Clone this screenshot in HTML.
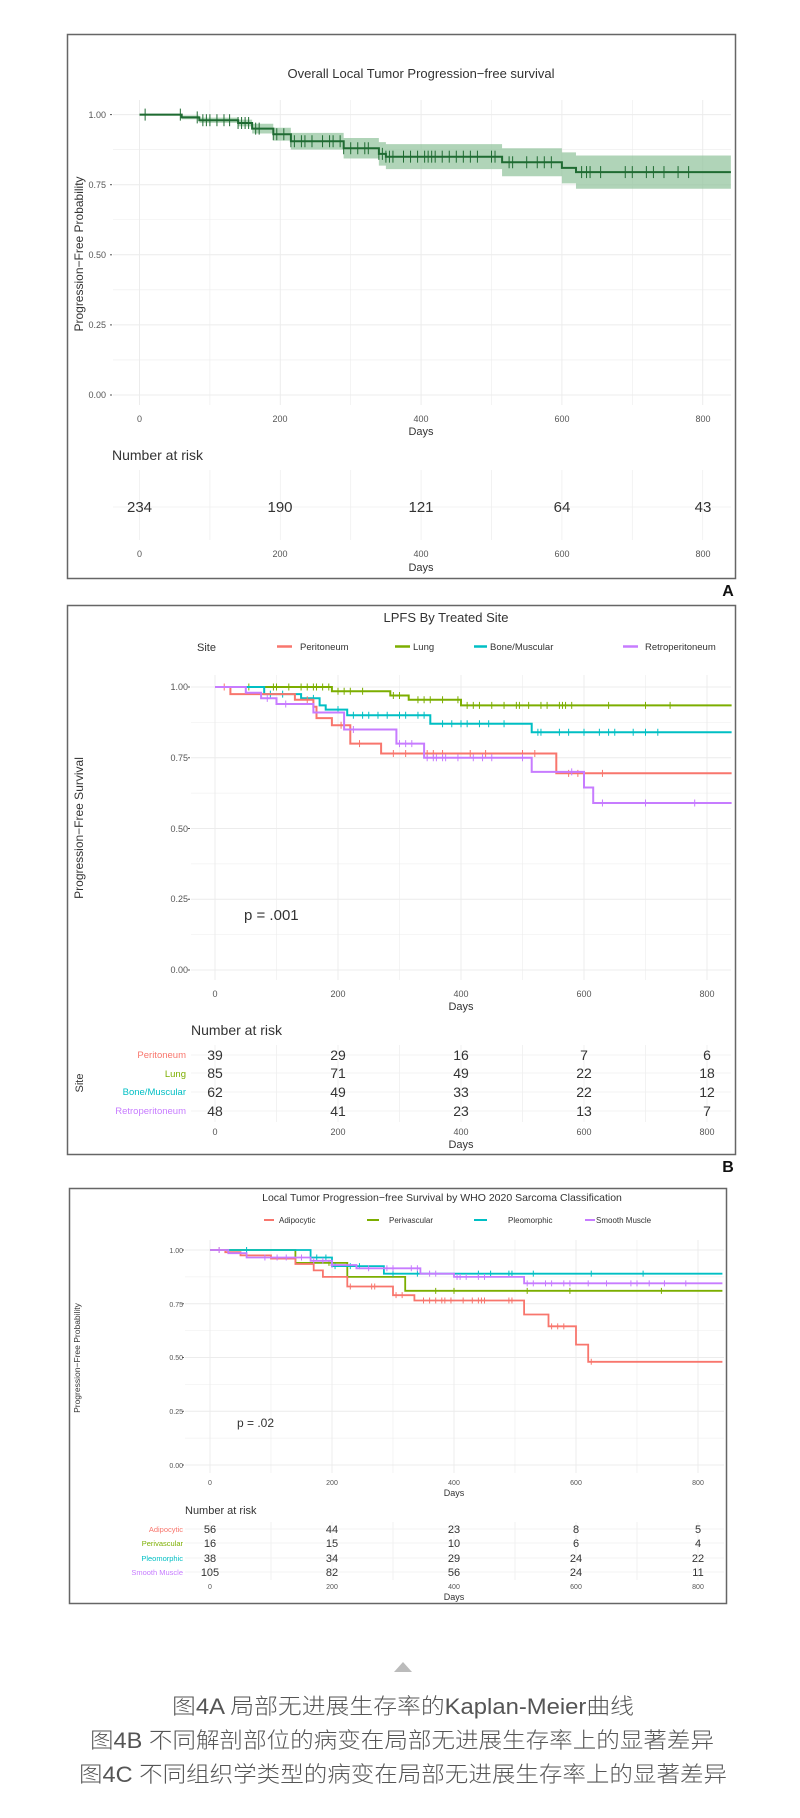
<!DOCTYPE html>
<html><head><meta charset="utf-8">
<style>
html,body{margin:0;padding:0;background:#fff;}
svg{display:block;}
text{font-family:"Liberation Sans",Arial,sans-serif;}
.cap{font-family:"Liberation Sans","Noto Sans CJK SC",sans-serif;font-weight:300;fill:#555;font-size:22px;}
</style></head>
<body>
<svg id="s" width="800" height="1818" viewBox="0 0 800 1818" xmlns="http://www.w3.org/2000/svg">
<!-- Panel boxes -->
<rect x="67.5" y="34.5" width="668" height="544" fill="none" stroke="#666" stroke-width="1.5"/>
<rect x="67.5" y="605.5" width="668" height="549" fill="none" stroke="#666" stroke-width="1.5"/>
<rect x="69.5" y="1188.5" width="657" height="415" fill="none" stroke="#666" stroke-width="1.5"/>
<g id="grids"></g>
<g id="curves"></g>

<!-- Panel A text -->
<text x="421" y="78" font-size="13" text-anchor="middle" fill="#333">Overall Local Tumor Progression−free survival</text>
<text transform="translate(83,254) rotate(-90)" font-size="12" text-anchor="middle" fill="#333">Progression−Free Probability</text>
<g font-size="9" fill="#555" text-anchor="end">
<text x="106" y="118">1.00</text><text x="106" y="188">0.75</text><text x="106" y="258">0.50</text><text x="106" y="328">0.25</text><text x="106" y="398">0.00</text>
</g>
<g font-size="9" fill="#555" text-anchor="middle">
<text x="139.5" y="422">0</text><text x="280" y="422">200</text><text x="421" y="422">400</text><text x="562" y="422">600</text><text x="703" y="422">800</text>
<text x="139.5" y="557">0</text><text x="280" y="557">200</text><text x="421" y="557">400</text><text x="562" y="557">600</text><text x="703" y="557">800</text>
</g>
<text x="421" y="435" font-size="11" text-anchor="middle" fill="#333">Days</text>
<text x="421" y="571" font-size="11" text-anchor="middle" fill="#333">Days</text>
<text x="112" y="460" font-size="14" fill="#333">Number at risk</text>
<g font-size="15" fill="#333" text-anchor="middle">
<text x="139.5" y="512">234</text><text x="280" y="512">190</text><text x="421" y="512">121</text><text x="562" y="512">64</text><text x="703" y="512">43</text>
</g>
<text x="728" y="596" font-size="16" font-weight="bold" text-anchor="middle" fill="#111">A</text>

<!-- Panel B text -->
<text x="446" y="622" font-size="13" text-anchor="middle" fill="#333">LPFS By Treated Site</text>
<text x="197" y="651" font-size="11" fill="#333">Site</text>
<g stroke-width="2.5">
<line x1="277" y1="646.5" x2="292" y2="646.5" stroke="#f8766d"/>
<line x1="395" y1="646.5" x2="410" y2="646.5" stroke="#7cae00"/>
<line x1="474" y1="646.5" x2="487" y2="646.5" stroke="#00bfc4"/>
<line x1="623" y1="646.5" x2="638" y2="646.5" stroke="#c77cff"/>
</g>
<g font-size="9.5" fill="#333">
<text x="300" y="650">Peritoneum</text><text x="413" y="650">Lung</text><text x="490" y="650">Bone/Muscular</text><text x="645" y="650">Retroperitoneum</text>
</g>
<text transform="translate(83,828) rotate(-90)" font-size="12" text-anchor="middle" fill="#333">Progression−Free Survival</text>
<g font-size="9" fill="#555" text-anchor="end">
<text x="188" y="690">1.00</text><text x="188" y="761">0.75</text><text x="188" y="832">0.50</text><text x="188" y="902">0.25</text><text x="188" y="973">0.00</text>
</g>
<g font-size="9" fill="#555" text-anchor="middle">
<text x="215" y="997">0</text><text x="338" y="997">200</text><text x="461" y="997">400</text><text x="584" y="997">600</text><text x="707" y="997">800</text>
<text x="215" y="1135">0</text><text x="338" y="1135">200</text><text x="461" y="1135">400</text><text x="584" y="1135">600</text><text x="707" y="1135">800</text>
</g>
<text x="461" y="1010" font-size="11" text-anchor="middle" fill="#333">Days</text>
<text x="461" y="1148" font-size="11" text-anchor="middle" fill="#333">Days</text>
<text x="244" y="920" font-size="15" fill="#333">p = .001</text>
<text x="191" y="1035" font-size="14" fill="#333">Number at risk</text>
<g font-size="9.5" text-anchor="end">
<text x="186" y="1058" fill="#f8766d">Peritoneum</text><text x="186" y="1077" fill="#7cae00">Lung</text><text x="186" y="1095" fill="#00bfc4">Bone/Muscular</text><text x="186" y="1114" fill="#c77cff">Retroperitoneum</text>
</g>
<text transform="translate(83,1083) rotate(-90)" font-size="11" text-anchor="middle" fill="#333">Site</text>
<g font-size="14" fill="#333" text-anchor="middle">
<text x="215" y="1060">39</text><text x="338" y="1060">29</text><text x="461" y="1060">16</text><text x="584" y="1060">7</text><text x="707" y="1060">6</text>
<text x="215" y="1078">85</text><text x="338" y="1078">71</text><text x="461" y="1078">49</text><text x="584" y="1078">22</text><text x="707" y="1078">18</text>
<text x="215" y="1097">62</text><text x="338" y="1097">49</text><text x="461" y="1097">33</text><text x="584" y="1097">22</text><text x="707" y="1097">12</text>
<text x="215" y="1116">48</text><text x="338" y="1116">41</text><text x="461" y="1116">23</text><text x="584" y="1116">13</text><text x="707" y="1116">7</text>
</g>
<text x="728" y="1172" font-size="16" font-weight="bold" text-anchor="middle" fill="#111">B</text>

<!-- Panel C text -->
<text x="442" y="1201" font-size="10.5" text-anchor="middle" fill="#333">Local Tumor Progression−free Survival by WHO 2020 Sarcoma Classification</text>
<g stroke-width="2">
<line x1="264" y1="1220" x2="274" y2="1220" stroke="#f8766d"/>
<line x1="367" y1="1220" x2="379" y2="1220" stroke="#7cae00"/>
<line x1="474" y1="1220" x2="487" y2="1220" stroke="#00bfc4"/>
<line x1="585" y1="1220" x2="595" y2="1220" stroke="#c77cff"/>
</g>
<g font-size="8" fill="#333">
<text x="279" y="1223">Adipocytic</text><text x="389" y="1223">Perivascular</text><text x="508" y="1223">Pleomorphic</text><text x="596" y="1223">Smooth Muscle</text>
</g>
<text transform="translate(80,1358) rotate(-90)" font-size="8.5" text-anchor="middle" fill="#333">Progression−Free Probability</text>
<g font-size="7" fill="#555" text-anchor="end">
<text x="183" y="1253">1.00</text><text x="183" y="1307">0.75</text><text x="183" y="1360">0.50</text><text x="183" y="1414">0.25</text><text x="183" y="1468">0.00</text>
</g>
<g font-size="7" fill="#555" text-anchor="middle">
<text x="210" y="1485">0</text><text x="332" y="1485">200</text><text x="454" y="1485">400</text><text x="576" y="1485">600</text><text x="698" y="1485">800</text>
<text x="210" y="1589">0</text><text x="332" y="1589">200</text><text x="454" y="1589">400</text><text x="576" y="1589">600</text><text x="698" y="1589">800</text>
</g>
<text x="454" y="1496" font-size="9" text-anchor="middle" fill="#333">Days</text>
<text x="454" y="1600" font-size="9" text-anchor="middle" fill="#333">Days</text>
<text x="237" y="1427" font-size="12" fill="#333">p = .02</text>
<text x="185" y="1514" font-size="11" fill="#333">Number at risk</text>
<g font-size="7.5" text-anchor="end">
<text x="183" y="1532" fill="#f8766d">Adipocytic</text><text x="183" y="1546" fill="#7cae00">Perivascular</text><text x="183" y="1561" fill="#00bfc4">Pleomorphic</text><text x="183" y="1575" fill="#c77cff">Smooth Muscle</text>
</g>
<g font-size="11" fill="#333" text-anchor="middle">
<text x="210" y="1533">56</text><text x="332" y="1533">44</text><text x="454" y="1533">23</text><text x="576" y="1533">8</text><text x="698" y="1533">5</text>
<text x="210" y="1547">16</text><text x="332" y="1547">15</text><text x="454" y="1547">10</text><text x="576" y="1547">6</text><text x="698" y="1547">4</text>
<text x="210" y="1562">38</text><text x="332" y="1562">34</text><text x="454" y="1562">29</text><text x="576" y="1562">24</text><text x="698" y="1562">22</text>
<text x="210" y="1576">105</text><text x="332" y="1576">82</text><text x="454" y="1576">56</text><text x="576" y="1576">24</text><text x="698" y="1576">11</text>
</g>

<!-- Triangle & captions -->
<polygon points="394,1672 412,1672 403,1662" fill="#bbb"/>
<text class="cap" x="403" y="1714" text-anchor="middle" textLength="462" lengthAdjust="spacingAndGlyphs">图4A 局部无进展生存率的Kaplan-Meier曲线</text>
<text class="cap" x="402" y="1748" text-anchor="middle" textLength="624" lengthAdjust="spacingAndGlyphs">图4B  不同解剖部位的病变在局部无进展生存率上的显著差异</text>
<text class="cap" x="403" y="1782" text-anchor="middle" textLength="648" lengthAdjust="spacingAndGlyphs">图4C  不同组织学类型的病变在局部无进展生存率上的显著差异</text>
</svg>
<script>
(function(){
var NS="http://www.w3.org/2000/svg";
var G=document.getElementById('grids'),C=document.getElementById('curves');
function el(p,tag,a){var e=document.createElementNS(NS,tag);for(var k in a)e.setAttribute(k,a[k]);p.appendChild(e);return e;}
function panel(P){
  var X=function(t){return P.x0+t*P.sx;},Y=function(p){return P.y0-p*P.sy;};
  for(var t=0;t<=800;t+=100){var x=X(t);el(G,'line',{x1:x,x2:x,y1:P.top,y2:P.bot,stroke:'#ececec','stroke-width':t%200?0.6:1});}
  for(var i=0;i<=8;i++){var y=Y(i/8);el(G,'line',{x1:P.left,x2:P.right,y1:y,y2:y,stroke:'#ececec','stroke-width':i%2?0.6:1});}
  if(P.risk){for(var t=0;t<=800;t+=100){var x=X(t);el(G,'line',{x1:x,x2:x,y1:P.risk[0],y2:P.risk[1],stroke:'#efefef','stroke-width':0.8});}
    P.rrows.forEach(function(y){el(G,'line',{x1:P.left,x2:P.right,y1:y,y2:y,stroke:'#efefef','stroke-width':0.8});});}
  P.series.forEach(function(s){
    var d=s.d,path='';
    for(var i=0;i<d.length;i++){var x1=X(d[i][0]),x2=X(i+1<d.length?d[i+1][0]:P.end),y=Y(d[i][1]);
      path+=(i==0?'M':'L')+x1.toFixed(1)+','+y.toFixed(1)+'L'+x2.toFixed(1)+','+y.toFixed(1);}
    if(s.band){var up='',lo='';var b=s.band;
      var pts=[];for(var i=0;i<d.length;i++){var x1=X(d[i][0]),x2=X(i+1<d.length?d[i+1][0]:P.end);var w=b*(1-d[i][1])*3+0.004;
        var yu=Y(Math.min(1,d[i][1]+w)),yl=Y(d[i][1]-w);up+=(i==0?'M':'L')+x1+','+yu+'L'+x2+','+yu;pts.unshift(x2+','+yl,x1+','+yl);}
      el(C,'path',{d:up+'L'+pts.join('L')+'Z',fill:'#8fc29a','fill-opacity':0.7});}
    el(C,'path',{d:path,fill:'none',stroke:s.c,'stroke-width':P.lw});
    (s.cens||[]).forEach(function(t){var p=1;for(var i=0;i<d.length;i++)if(d[i][0]<=t)p=d[i][1];var x=X(t),y=Y(p);
      el(C,'path',{d:'M'+(x)+','+(y-P.ch)+'V'+(y+P.ch)+(P.hz?'M'+(x-P.ch*0.7)+','+y+'H'+(x+P.ch*0.7):''),stroke:s.c,'stroke-width':1,fill:'none'});});
  });
  P.yt.forEach(function(p){el(G,'line',{x1:P.left-3,x2:P.left-1,y1:Y(p),y2:Y(p),stroke:'#555'});});
}
function range(a){return a;}
panel({x0:139.5,sx:0.704,y0:395,sy:280.4,top:100,bot:405,left:113,right:731,end:840,lw:2,ch:6,hz:false,
 risk:[470,540],rrows:[507],yt:[0,.25,.5,.75,1],
 series:[{c:'#1f6b32',band:0.09,d:[[0,1],[60,.99],[85,.98],[140,.97],[160,.95],[190,.93],[215,.905],[290,.88],[340,.86],[350,.85],[515,.83],[600,.81],[620,.795]],
 cens:[8,58,82,90,95,100,110,120,128,140,145,150,155,165,170,190,195,205,215,220,230,235,245,260,270,275,285,290,300,310,320,325,340,345,350,355,360,375,385,395,405,410,415,420,430,440,450,460,470,480,500,505,525,530,550,565,575,585,628,635,640,655,690,700,720,730,745,765,780]}]});
panel({x0:215,sx:0.615,y0:970,sy:283,top:675,bot:980,left:191,right:731,end:840,lw:2,ch:3.5,hz:true,
 risk:[1045,1122],rrows:[1055,1073,1092,1111],yt:[0,.25,.5,.75,1],
 series:[
 {c:'#7cae00',d:[[0,1],[190,.985],[285,.97],[315,.955],[400,.935]],cens:[55,95,100,120,140,150,160,165,175,185,200,210,220,240,290,300,330,340,350,370,395,410,420,430,450,470,490,495,510,530,540,560,565,570,580,640,700,740]},
 {c:'#00bfc4',d:[[0,1],[80,.975],[140,.96],[170,.935],[180,.92],[215,.90],[350,.87],[515,.84]],cens:[90,110,160,200,225,240,250,265,280,300,310,330,340,370,385,400,410,430,445,470,525,530,560,575,600,625,640,650,680,700,720]},
 {c:'#f8766d',d:[[0,1],[25,.975],[130,.955],[160,.93],[165,.89],[190,.865],[220,.80],[270,.765],[555,.695]],cens:[15,150,205,235,290,310,345,355,370,415,440,500,520,575,590,630]},
 {c:'#c77cff',d:[[0,1],[50,.98],[75,.96],[100,.94],[160,.91],[210,.85],[295,.80],[340,.75],[515,.70],[600,.645],[615,.59]],cens:[85,115,225,300,310,320,345,355,360,370,375,395,420,435,450,500,580,630,700,780]}]});
panel({x0:210,sx:0.61,y0:1465,sy:215,top:1240,bot:1473,left:185,right:724,end:840,lw:1.8,ch:3,hz:true,
 risk:[1522,1580],rrows:[1529,1543,1558,1572],yt:[0,.25,.5,.75,1],
 series:[
 {c:'#7cae00',d:[[0,1],[140,.94],[225,.875],[320,.81]],cens:[195,370,400,520,590,740]},
 {c:'#00bfc4',d:[[0,1],[165,.965],[200,.925],[285,.89]],cens:[60,175,190,205,230,245,300,340,440,460,490,495,530,625,710]},
 {c:'#f8766d',d:[[0,1],[25,.99],[50,.975],[100,.96],[140,.935],[170,.905],[185,.875],[225,.83],[300,.79],[335,.765],[515,.70],[555,.645],[600,.56],[620,.48]],cens:[15,230,265,270,305,315,350,360,370,380,385,395,415,430,440,445,450,490,495,560,570,580,625]},
 {c:'#c77cff',d:[[0,1],[30,.985],[60,.965],[165,.95],[200,.93],[240,.915],[345,.89],[400,.875],[515,.845]],cens:[15,90,110,125,150,170,185,200,260,290,300,330,340,360,370,405,410,420,440,450,520,530,550,560,580,590,620,650,690,700,720,745,780]}]});
})();
</script>
</body></html>
